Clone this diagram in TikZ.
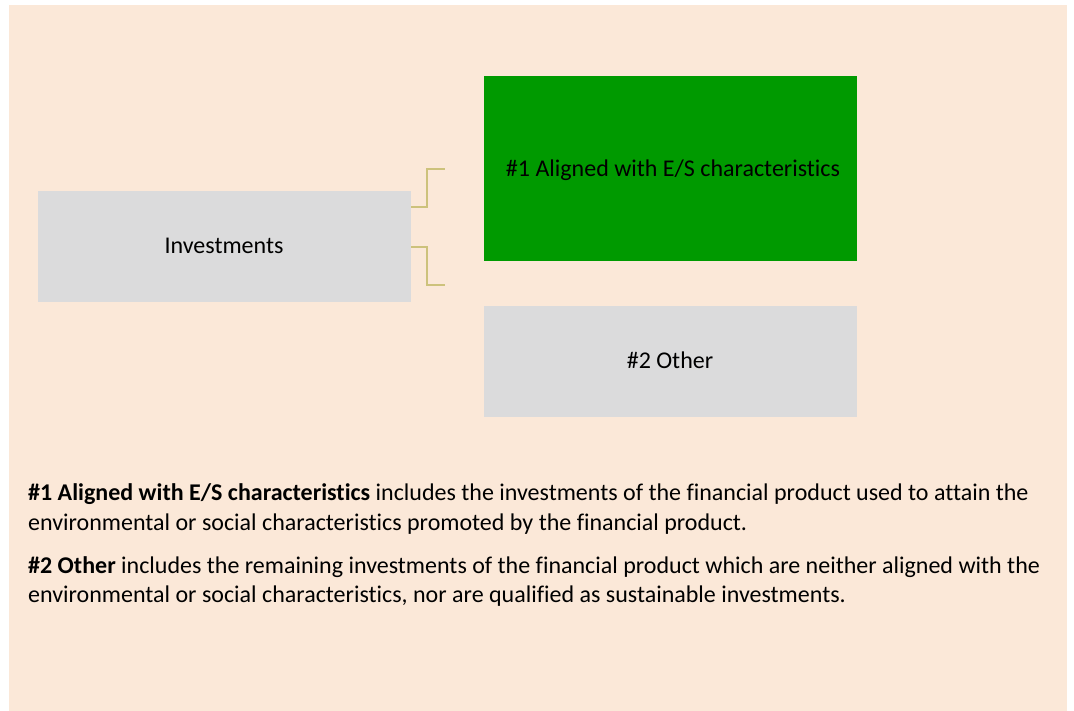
\documentclass[tikz,border=0pt]{standalone}
\usepackage{fontspec}
\setmainfont{Carlito}[Ligatures={NoCommon}]
\definecolor{peach}{HTML}{FBE8D8}
\definecolor{boxgray}{HTML}{DBDBDC}
\definecolor{boxgreen}{HTML}{009A00}
\definecolor{connector}{HTML}{CDC27C}
\begin{document}
\begin{tikzpicture}[x=1pt,y=-1pt,
  every node/.style={font=\fontsize{24}{29}\selectfont, inner sep=0pt},
  box/.style={draw=none, minimum width=373pt, anchor=north west},
  link/.style={draw=connector, line width=1.5pt},
  para/.style={anchor=base west}]
\fill[white] (0,0) rectangle (1074,711);
\useasboundingbox (0,0) rectangle (1074,711);
\fill[peach] (9,5) rectangle (1067,711);
% boxes
\node[box, fill=boxgray, minimum height=111pt] (inv) at (38,191) {};
\node[box, fill=boxgreen, minimum height=185pt] (al) at (484,76) {};
\node[box, fill=boxgray, minimum height=111pt] (oth) at (484,306) {};
\node[anchor=base] at (224,254) {Investments};
\node[anchor=base] at (673,177) {\#1 Aligned with E/S characteristics};
\node[anchor=base] at (670,368) {\#2 Other};
% connectors
\coordinate (c1) at (445,169);
\coordinate (c2) at (445,285);
\draw[link] (inv.east |- 0,207) -- (427,207) |- (c1);
\draw[link] (inv.east |- 0,247) -- (427,247) |- (c2);
% description
\node[para] (p1) at (28,500) {\textbf{\#1 Aligned with E/S characteristics} includes the investments of the financial product used to attain the};
\node[para] (p2) at (28,530) {environmental or social characteristics promoted by the financial product.};
\node[para] (p3) at (28,573) {\textbf{\#2 Other} includes the remaining investments of the financial product which are neither aligned with the};
\node[para] (p4) at (28,602) {environmental or social characteristics, nor are qualified as sustainable investments.};
\end{tikzpicture}
\end{document}
